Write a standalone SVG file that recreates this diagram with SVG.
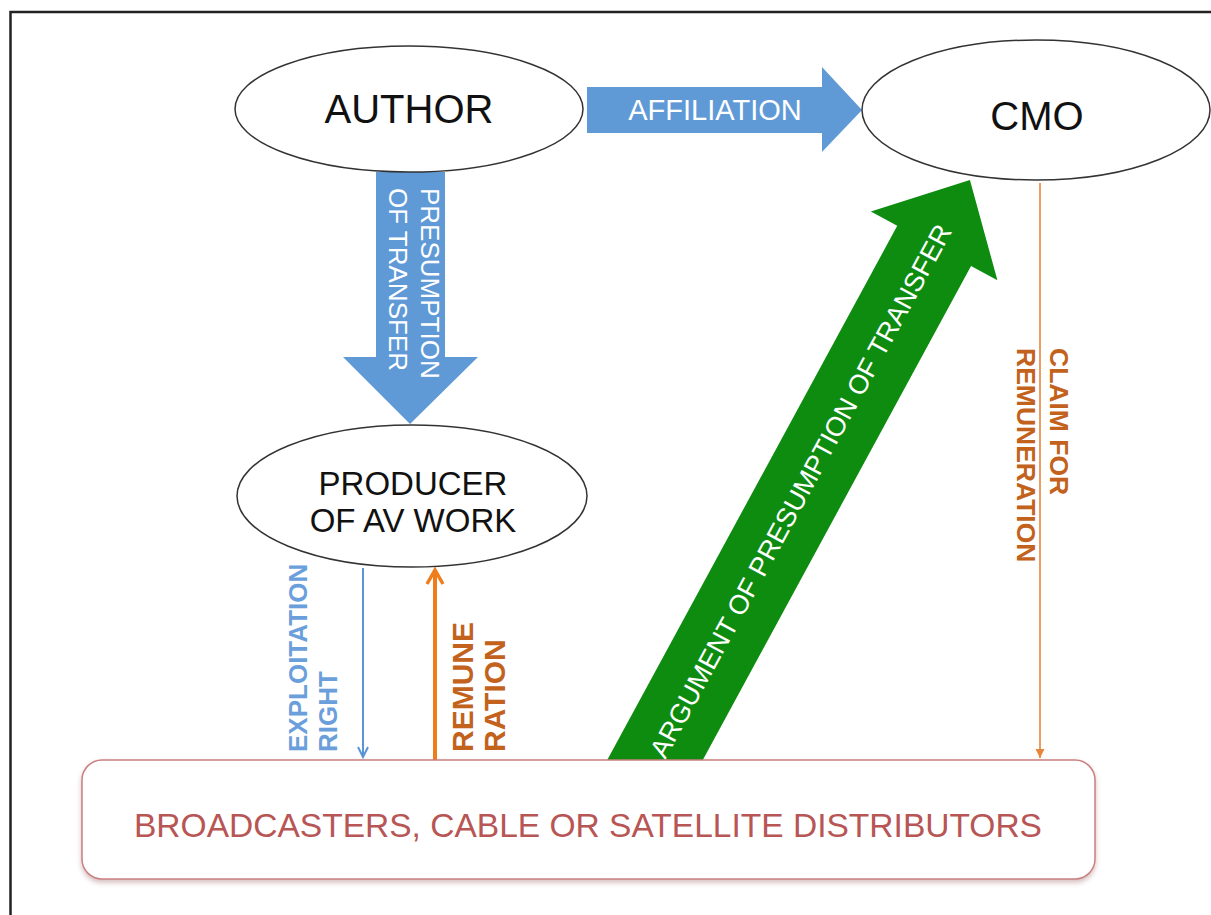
<svg xmlns="http://www.w3.org/2000/svg" width="1211" height="915" viewBox="0 0 1211 915">
<defs>
<style>
.node{fill:#fff;stroke:#333;stroke-width:1.5}
.lbl{font-family:"Liberation Sans",Arial,sans-serif}
.blk{fill:#111}
.wht{fill:#fff}
</style>
<filter id="sh" x="-5%" y="-10%" width="110%" height="130%">
<feDropShadow dx="0" dy="3" stdDeviation="2.5" flood-color="#8a4a4a" flood-opacity="0.35"/>
</filter>
<marker id="mBlue" markerWidth="14" markerHeight="14" refX="12" refY="7" orient="auto" markerUnits="userSpaceOnUse">
<path d="M2,2 L12,7 L2,12" fill="none" stroke="#5b95d5" stroke-width="2"/>
</marker>
<marker id="mOrange" markerWidth="20" markerHeight="20" refX="17" refY="10" orient="auto" markerUnits="userSpaceOnUse">
<path d="M3,2 L17,10 L3,18" fill="none" stroke="#f07d1c" stroke-width="3.5"/>
</marker>
<marker id="mClaim" markerWidth="12" markerHeight="12" refX="10" refY="6" orient="auto" markerUnits="userSpaceOnUse">
<path d="M1,1.5 L10,6 L1,10.5 Z" fill="#e8853a"/>
</marker>
</defs>
<rect x="0" y="0" width="1211" height="915" fill="#fff"/>
<path d="M10.5,915 L10.5,12 L1211,12" fill="none" stroke="#222" stroke-width="2.5"/>

<g id="connectors">
<g id="affiliation">
<polygon points="587,87 822,87 822,67 862,110 822,152 822,133 587,133" fill="#5f9ad7"/>
<text class="lbl wht" x="715" y="120" font-size="29" text-anchor="middle">AFFILIATION</text>
</g>
<g id="presumption">
<polygon points="376,172 445,172 445,357 478,357 410,424 343,357 376,357" fill="#5f9ad7"/>
<text class="lbl wht" font-size="26" transform="translate(421,188) rotate(90)">PRESUMPTION</text>
<text class="lbl wht" font-size="26" transform="translate(389,188) rotate(90)">OF TRANSFER</text>
</g>
<g id="exploitation">
<line x1="363" y1="568" x2="363" y2="757" stroke="#5b95d5" stroke-width="2" marker-end="url(#mBlue)"/>
<text class="lbl" font-size="26" font-weight="bold" fill="#6b9fdc" transform="translate(307,752) rotate(-90)">EXPLOITATION</text>
<text class="lbl" font-size="26" font-weight="bold" fill="#6b9fdc" transform="translate(337,752) rotate(-90)">RIGHT</text>
</g>
<g id="remuneration">
<line x1="435" y1="760" x2="435" y2="570" stroke="#f07d1c" stroke-width="4" marker-end="url(#mOrange)"/>
<text class="lbl" font-size="30" font-weight="bold" fill="#c2621c" transform="translate(473,752) rotate(-90)">REMUNE</text>
<text class="lbl" font-size="30" font-weight="bold" fill="#c2621c" transform="translate(505,752) rotate(-90)">RATION</text>
</g>
<g id="argument" transform="translate(655,760) rotate(-61.5)">
<polygon points="-40,-42 585,-42 585,-72 660,0 585,72 585,42 -40,42" fill="#0e8c10"/>
<text class="lbl wht" x="306" y="9" font-size="27" text-anchor="middle">ARGUMENT OF PRESUMPTION OF TRANSFER</text>
</g>
<g id="claim">
<line x1="1040" y1="183" x2="1040" y2="758" stroke="#e8853a" stroke-width="1.6" marker-end="url(#mClaim)"/>
<text class="lbl" font-size="26.5" font-weight="bold" fill="#c2621c" transform="translate(1050,348) rotate(90)">CLAIM FOR</text>
<text class="lbl" font-size="26.5" font-weight="bold" fill="#c2621c" transform="translate(1017,348) rotate(90)">REMUNERATION</text>
</g>
</g>

<g id="author">
<ellipse class="node" cx="409" cy="109" rx="174" ry="63"/>
<text class="lbl blk" x="409" y="123" font-size="40" text-anchor="middle">AUTHOR</text>
</g>
<g id="cmo">
<ellipse class="node" cx="1036" cy="110" rx="174" ry="70"/>
<text class="lbl blk" x="1037" y="130" font-size="40" text-anchor="middle">CMO</text>
</g>
<g id="producer">
<ellipse class="node" cx="412" cy="496" rx="175" ry="71"/>
<text class="lbl blk" x="413" y="495" font-size="33" text-anchor="middle">PRODUCER</text>
<text class="lbl blk" x="413" y="532" font-size="33" text-anchor="middle">OF AV WORK</text>
</g>
<g id="distributors">
<rect x="82" y="760" width="1013" height="119" rx="20" fill="#fff" stroke="#c98080" stroke-width="1.5" filter="url(#sh)"/>
<text class="lbl" x="588" y="837" font-size="34" text-anchor="middle" fill="#b85555" textLength="908" lengthAdjust="spacingAndGlyphs">BROADCASTERS, CABLE OR SATELLITE DISTRIBUTORS</text>
</g>
</svg>
